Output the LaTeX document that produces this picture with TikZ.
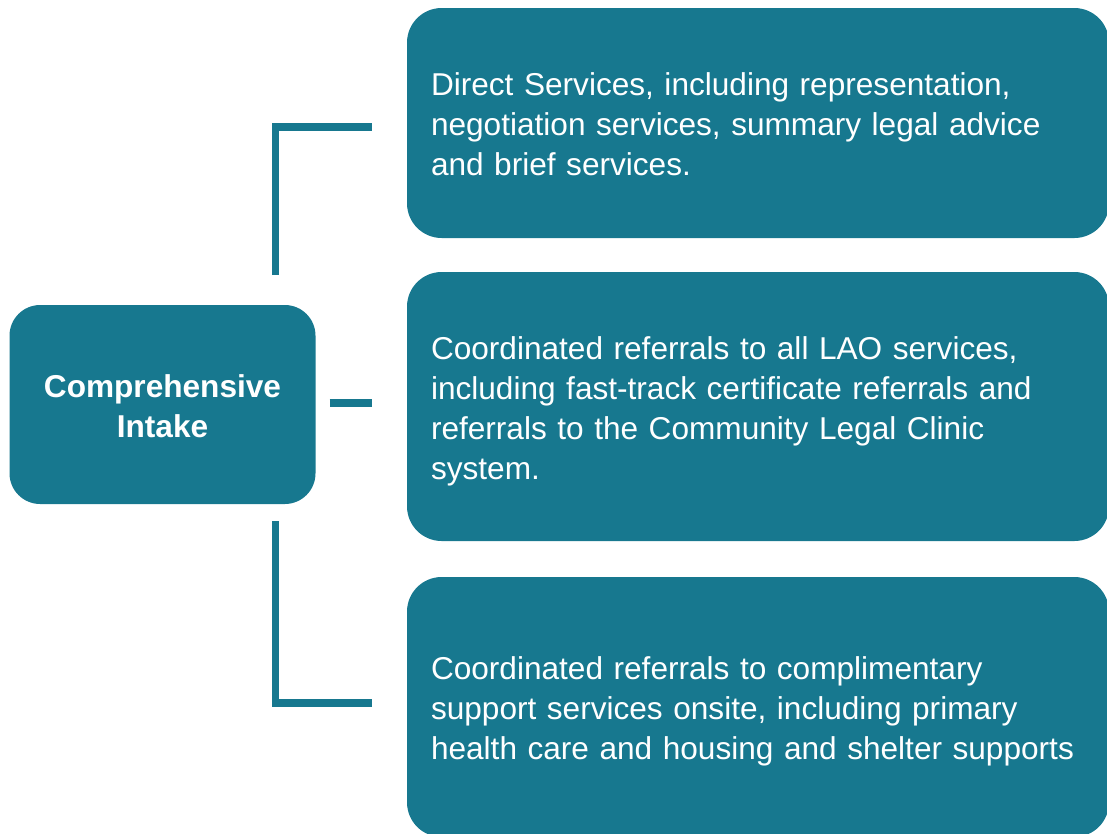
\documentclass[tikz,border=0pt]{standalone}
\usepackage{fontspec}
\setmainfont{Liberation Sans}
\definecolor{laoteal}{RGB}{23,120,143}

\begin{document}
\begin{tikzpicture}[x=0.75pt,y=-0.75pt,
    box/.style={fill=laoteal,rounded corners=26pt},
    item/.style={box,minimum width=526.5pt},
    itemtext/.style={text=white,font=\fontsize{23.7}{30}\selectfont,
      text width=490.5pt,align=left},
    link/.style={draw=laoteal,line width=5.7pt}]
  \useasboundingbox (0,0) rectangle (1107,833);
  \clip (0,0) rectangle (1107,833);
  % intake on the left
  \node[box,rounded corners=23pt,minimum width=229.5pt,minimum height=149.25pt]
    (intake) at (162.5,404.5) {};
  \node[text=white,font=\bfseries\fontsize{23.7}{30}\selectfont,align=center]
    (intaketext) at ([yshift=-1.5pt]intake.center) {Comprehensive\\Intake};
  % the three services
  \node[item,minimum height=172.5pt] (direct) at (758,123) {};
  \node[itemtext] (directtext) at ([yshift=-0.75pt]direct.center)
    {Direct Services, including representation,\\negotiation services, summary legal advice\\and brief services.};
  \node[item,minimum height=201.75pt] (lao) at (758,406.5) {};
  \node[itemtext] (laotext) at ([yshift=-3.75pt]lao.center)
    {Coordinated referrals to all LAO services,\\including fast-track certificate referrals and\\referrals to the Community Legal Clinic\\system.};
  \node[item,minimum height=195pt] (support) at (758,707) {};
  \node[itemtext] (supporttext) at ([yshift=-3pt]support.center)
    {Coordinated referrals to complimentary\\support services onsite, including primary\\health care and housing and shelter supports};
  % brackets
  \coordinate (directfoot) at (275.5,275);
  \coordinate (directend) at (372,127);
  \coordinate (laostart) at (329.5,403);
  \coordinate (laoend) at (372,403);
  \coordinate (supporttop) at (275.5,521);
  \coordinate (supportend) at (372,703);
  \draw[link] (directfoot) |- (directend);
  \draw[link] (laostart) -- (laoend);
  \draw[link] (supporttop) |- (supportend);
\end{tikzpicture}
\end{document}
